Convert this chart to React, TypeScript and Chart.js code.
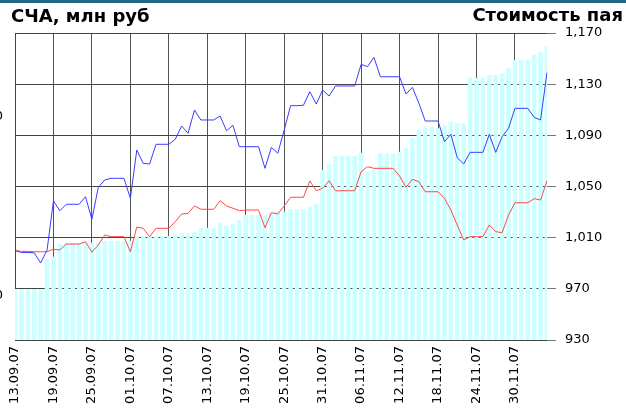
import React, { useEffect, useRef } from "react";
import { Chart, registerables } from "chart.js";

Chart.register(...registerables);

// ---- data ----
const START_DATE = { year: 2007, month: 8, day: 13 }; // 13.09.2007
const DAY_COUNT = 84;
const TICK_EVERY = 6;

const LEFT_TITLE = "СЧА, млн руб";
const RIGHT_TITLE = "Стоимость пая";

// СЧА (net asset value), млн руб — bars, left axis
const navValues = [
  1036, 1036, 1036, 1036, 1036, 1204, 1216, 1288, 1293, 1293,
  1293, 1293, 1295, 1295, 1306, 1306, 1306, 1306, 1304, 1330,
  1330, 1330, 1330, 1330, 1332, 1342, 1348, 1348, 1356, 1379,
  1379, 1379, 1407, 1388, 1400, 1422, 1450, 1450, 1450, 1450,
  1460, 1468, 1468, 1482, 1482, 1482, 1496, 1510, 1702, 1734,
  1780, 1780, 1780, 1780, 1799, 1692, 1702, 1796, 1796, 1796,
  1804, 1824, 1883, 1926, 1945, 1945, 1936, 1954, 1972, 1964,
  1964, 2219, 2219, 2219, 2234, 2234, 2244, 2272, 2318, 2318,
  2318, 2346, 2365, 2393,
];

// Стоимость пая — blue series, right axis
const bluePrice = [
  1000, 998.4, 998.4, 998.2, 990.2, 1000.4, 1038.7, 1031.1, 1036.1, 1036.1,
  1036.1, 1042, 1024.4, 1049.4, 1055.1, 1056.4, 1056.4, 1056.4, 1040.8, 1078.5,
  1068.1, 1067.6, 1083, 1083, 1083, 1086.9, 1097.3, 1091.6, 1109.8, 1102,
  1102, 1102, 1105.1, 1093.6, 1097.8, 1081.1, 1081.1, 1081.1, 1081.1, 1064.2,
  1080.6, 1076, 1094.2, 1113.2, 1113.2, 1113.5, 1124.1, 1114.5, 1125.4, 1120.7,
  1128.6, 1128.6, 1128.6, 1128.6, 1145.5, 1143.7, 1151, 1135.8, 1135.8, 1135.8,
  1135.8, 1122.3, 1127.5, 1115.3, 1101.2, 1101.2, 1101.2, 1085, 1090.8, 1072.5,
  1067.6, 1076.7, 1076.7, 1076.7, 1090.8, 1076.7, 1088.9, 1095.5, 1111.1, 1111.1,
  1111.1, 1104.1, 1102, 1139,
];

// Стоимость пая — red series, right axis
const redPrice = [
  1000, 999.3, 999.3, 999, 999, 999, 1000.9, 1000.4, 1005, 1005,
  1005, 1006.8, 998.6, 1004.3, 1012.1, 1010.8, 1010.8, 1010.8, 999, 1018.3,
  1017.3, 1010.8, 1017.3, 1017.3, 1017.3, 1022.5, 1028.5, 1029, 1034.8, 1032.2,
  1032.2, 1032.2, 1038.9, 1034.8, 1033, 1031.1, 1031.6, 1031.6, 1031.6, 1017.8,
  1029.5, 1028.5, 1034.8, 1041.6, 1041.6, 1041.6, 1054.3, 1046.7, 1048.6, 1054.5,
  1046.7, 1046.7, 1046.7, 1046.7, 1061.6, 1065.5, 1064.2, 1064.2, 1064.2, 1064.2,
  1058.2, 1049.4, 1055.6, 1053.8, 1045.9, 1045.9, 1045.9, 1040.8, 1031.6, 1019.9,
  1008.2, 1010.8, 1010.8, 1010.8, 1019.9, 1014.7, 1013.9, 1027.7, 1037.3, 1037.3,
  1037.3, 1040.5, 1039.4, 1054.5,
];

const rightAxis = { min: 930, max: 1170, step: 40 };
const leftAxis = { min: 750, max: 2469 };
const leftTickValues = [1000, 2000];

function buildDates(): string[] {
  const out: string[] = [];
  for (let i = 0; i < DAY_COUNT; i++) {
    const d = new Date(START_DATE.year, START_DATE.month, START_DATE.day + i);
    const dd = String(d.getDate()).padStart(2, "0");
    const mm = String(d.getMonth() + 1).padStart(2, "0");
    const yy = String(d.getFullYear() % 100).padStart(2, "0");
    out.push(`${dd}.${mm}.${yy}`);
  }
  return out;
}
const dateLabels = buildDates();

const fmt = (v: number) =>
  Math.round(v).toString().replace(/\B(?=(\d{3})+(?!\d))/g, ",");

// ---- layout ----
const W = 626;
const H = 411;
const SHIFT = 60; // part of canvas hidden on the left (cut-off left axis labels)
const FONT = "DejaVu Sans";

export default function App() {
  const ref = useRef<HTMLCanvasElement | null>(null);

  useEffect(() => {
    if (!ref.current) return;
    const titlePlugin = {
      id: "titles",
      afterDraw(chart: any) {
        const ctx = chart.ctx;
        ctx.save();
        ctx.fillStyle = "#1f6887";
        ctx.fillRect(SHIFT, 0, W, 3);
        ctx.fillStyle = "#000";
        ctx.font = `bold 18px "${FONT}"`;
        ctx.textBaseline = "alphabetic";
        ctx.textAlign = "left";
        ctx.fillText(LEFT_TITLE, SHIFT + 11, 21.5);
        ctx.textAlign = "right";
        ctx.fillText(RIGHT_TITLE, SHIFT + 623, 21);
        ctx.restore();
      },
    };

    const chart = new Chart(ref.current, {
      type: "bar",
      data: {
        labels: dateLabels,
        datasets: [
          {
            type: "line",
            data: bluePrice,
            yAxisID: "y",
            borderColor: "#3c3cff",
            borderWidth: 1,
            pointRadius: 0,
            tension: 0,
            order: 1,
          } as any,
          {
            type: "line",
            data: redPrice,
            yAxisID: "y",
            borderColor: "#ff4848",
            borderWidth: 1,
            pointRadius: 0,
            tension: 0,
            order: 2,
          } as any,
          {
            type: "bar",
            data: navValues,
            yAxisID: "y1",
            backgroundColor: "#ccffff",
            borderWidth: 0,
            categoryPercentage: 1,
            barPercentage: 0.72,
            clip: 0,
            order: 3,
          } as any,
        ],
      },
      options: {
        responsive: false,
        animation: false,
        devicePixelRatio: 1,
        layout: { padding: { top: 33, right: 0, bottom: 0, left: 0 } },
        plugins: {
          legend: { display: false },
          tooltip: { enabled: false },
        },
        scales: {
          x: {
            type: "category",
            offset: false,
            grid: { offset: false, drawTicks: false, color: "#555", lineWidth: 1 },
            border: { display: false },
            ticks: {
              autoSkip: false,
              maxRotation: 90,
              minRotation: 90,
              padding: 6,
              color: "#000",
              font: { family: FONT, size: 13 },
            },
            afterBuildTicks: (s: any) => {
              s.ticks = s.ticks.filter((t: any) => t.value % TICK_EVERY === 0);
            },
            afterFit: (s: any) => {
              s.height = 71;
            },
          },
          y: {
            position: "right",
            min: rightAxis.min,
            max: rightAxis.max,
            grid: { color: "#444", tickLength: 9, tickColor: "#777", lineWidth: 1 },
            border: { display: false },
            ticks: {
              stepSize: rightAxis.step,
              padding: 9,
              color: "#000",
              font: { family: FONT, size: 13 },
              callback: (v: any) => fmt(Number(v)),
            },
            afterFit: (s: any) => {
              s.width = 79;
            },
          },
          y1: {
            position: "left",
            min: leftAxis.min,
            max: leftAxis.max,
            grid: { display: false, drawTicks: false },
            border: { display: true, color: "#444" },
            ticks: {
              padding: 12,
              color: "#000",
              font: { family: FONT, size: 13 },
              callback: (v: any) => fmt(Number(v)),
            },
            afterBuildTicks: (s: any) => {
              s.ticks = leftTickValues.map((v) => ({ value: v }));
            },
            afterFit: (s: any) => {
              s.width = SHIFT + 15;
            },
          },
        },
      } as any,
      plugins: [titlePlugin],
    });
    return () => chart.destroy();
  }, []);

  return (
    <div
      style={{
        position: "fixed",
        left: 0,
        top: 0,
        width: W,
        height: H,
        overflow: "hidden",
        background: "#fff",
      }}
    >
      <canvas
        ref={ref}
        width={W + SHIFT}
        height={H}
        style={{ position: "absolute", left: -SHIFT, top: 0, width: W + SHIFT, height: H }}
      />
    </div>
  );
}
